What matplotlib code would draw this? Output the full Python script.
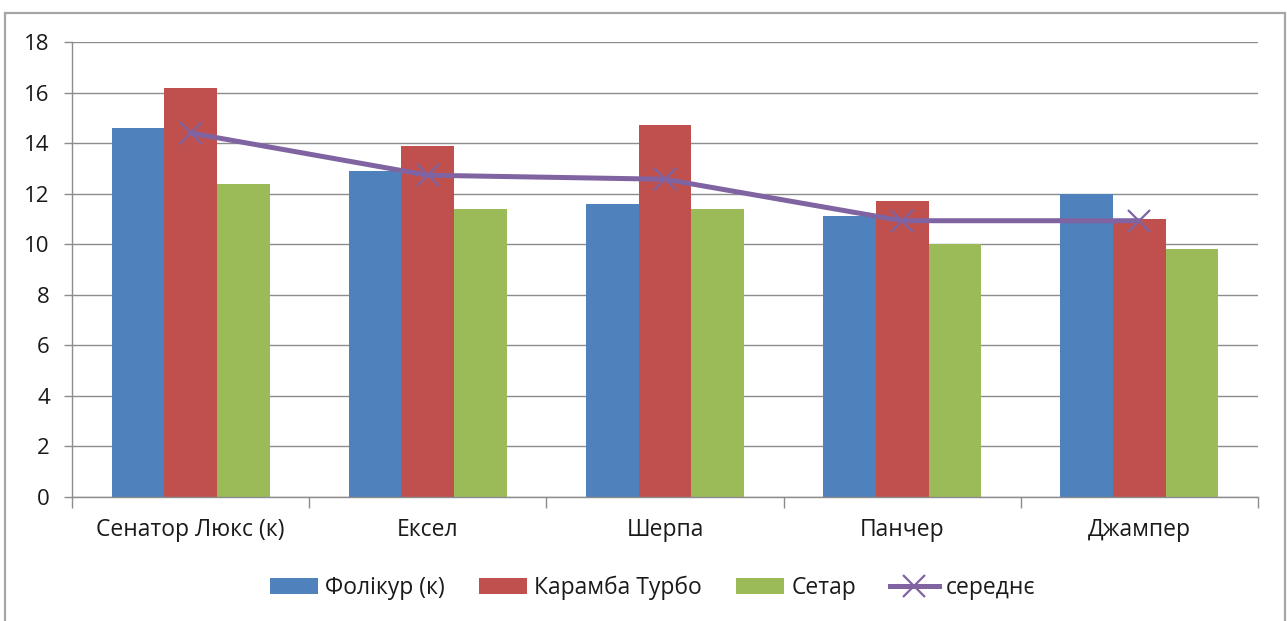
import matplotlib
matplotlib.use("Agg")
import matplotlib.pyplot as plt
import numpy as np
from matplotlib.patches import Rectangle

categories = ["Сенатор Люкс (к)", "Ексел", "Шерпа", "Панчер", "Джампер"]
folikur = [14.6, 12.9, 11.6, 11.1, 12.0]
karamba = [16.2, 13.9, 14.7, 11.7, 11.0]
setar = [12.4, 11.4, 11.4, 10.0, 9.8]
serednie = [14.4, 12.73, 12.57, 10.93, 10.93]
series_names = ["Фолікур (к)", "Карамба Турбо", "Сетар", "середнє"]
yticks = [0, 2, 4, 6, 8, 10, 12, 14, 16, 18]

plt.rcParams['font.family'] = ['Open Sans', 'DejaVu Sans']

W, H = 1287, 621
fig = plt.figure(figsize=(W / 100, H / 100), dpi=100)
ax = fig.add_axes([72 / W, 1 - 497 / H, (1258 - 72) / W, (497 - 42) / H])

# outer border
fig.patches.append(Rectangle((5 / W, -0.05), (1285 - 5) / W, 1.05 - 13 / H,
                             transform=fig.transFigure, fill=False,
                             edgecolor="#a6a6a6", linewidth=1.6))

x = np.arange(len(categories))
w = 1 / 4.5
colors = ["#4F81BD", "#C0504D", "#9BBB59", "#8064A2"]
b1 = ax.bar(x - w, folikur, w, color=colors[0], label=series_names[0], zorder=2)
b2 = ax.bar(x, karamba, w, color=colors[1], label=series_names[1], zorder=2)
b3 = ax.bar(x + w, setar, w, color=colors[2], label=series_names[2], zorder=2)
ln, = ax.plot(x, serednie, color=colors[3], linewidth=3.6, marker="x", markersize=16,
              markeredgewidth=1.6, label=series_names[3], zorder=3)

ax.set_xlim(-0.5, len(categories) - 0.5)
ax.set_ylim(0, 18)
ax.set_yticks(yticks)
ax.set_yticklabels([str(v) for v in yticks])
ax.yaxis.grid(True, color="#8c8c8c", linewidth=1.0, zorder=0)
ax.set_axisbelow(True)

ax.set_xticks(np.arange(len(categories) + 1) - 0.5)
ax.set_xticklabels([])
ax.set_xticks(x, minor=True)
ax.set_xticklabels(categories, minor=True)
ax.tick_params(axis="x", which="major", length=8, width=1, color="#8c8c8c", direction="out")
ax.tick_params(axis="x", which="minor", length=0, pad=15, labelsize=16.5, labelcolor="#1a1a1a")
ax.tick_params(axis="y", length=6, width=1, color="#8c8c8c", pad=10, labelsize=16,
               labelcolor="#1a1a1a")

for s in ["top", "right"]:
    ax.spines[s].set_visible(False)
for s in ["left", "bottom"]:
    ax.spines[s].set_color("#8c8c8c")
    ax.spines[s].set_linewidth(1.0)

leg = fig.legend([b1, b2, b3, ln], series_names, loc="center",
                 bbox_to_anchor=(0.507, 1 - 588 / H),
                 ncol=4, frameon=False, fontsize=16.5, handlelength=2.1, handleheight=0.7,
                 handletextpad=0.3, columnspacing=1.5)
for t in leg.get_texts():
    t.set_color("#1a1a1a")

fig.savefig("out.png", dpi=100, facecolor="white")
